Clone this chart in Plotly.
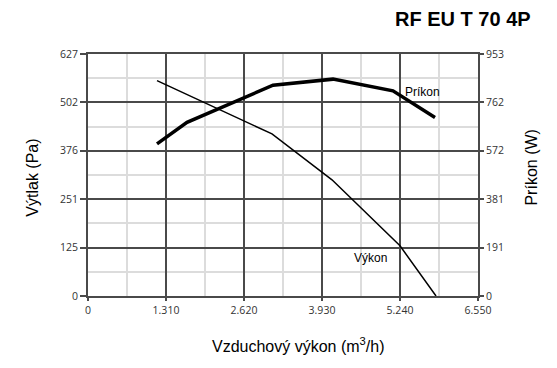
import plotly.graph_objects as go

# ---- data ----
flow_vykon = [1159, 3090, 4098, 5240, 5845]
pressure_vykon = [558, 420, 301, 130, 0]

flow_prikon = [1159, 1663, 3107, 4115, 5122, 5828]
power_prikon = [599, 684, 830, 854, 808, 703]

x_tickvals = [0, 1310, 2620, 3930, 5240, 6550]
x_ticktext = ["0", "1.310", "2.620", "3.930", "5.240", "6.550"]
y_tickvals = [0, 125.4, 250.8, 376.2, 501.6, 627]
y_ticktext = ["0", "125", "251", "376", "502", "627"]
y2_tickvals = [0, 190.6, 381.2, 571.8, 762.4, 953]
y2_ticktext = ["0", "191", "381", "572", "762", "953"]

title_text = "RF EU T 70 4P"
x_title = "Vzduchový výkon (m<sup>3</sup>/h)"
y_title = "Výtlak (Pa)"
y2_title = "Príkon (W)"

DARK = "#4a4a4a"
LIGHT = "#dcdcdc"
TICKFONT = dict(family="Open Sans, DejaVu Sans, sans-serif", size=10.5, color="#333333")

fig = go.Figure()
fig.add_trace(go.Scatter(x=flow_vykon, y=pressure_vykon, mode="lines",
                         line=dict(color="black", width=1.5), yaxis="y",
                         showlegend=False, hoverinfo="skip"))
fig.add_trace(go.Scatter(x=flow_prikon, y=power_prikon, mode="lines",
                         line=dict(color="black", width=3.5), yaxis="y2",
                         showlegend=False, hoverinfo="skip"))

minor_x = [v + 655 for v in x_tickvals[:-1]]
minor_y = [v + 62.7 for v in y_tickvals[:-1]]

fig.update_layout(
    width=549, height=360,
    margin=dict(l=80, r=79, t=46, b=71.5, autoexpand=False),
    paper_bgcolor="white", plot_bgcolor="white",
    xaxis=dict(range=[0, 6550], tickmode="array", tickvals=x_tickvals, ticktext=x_ticktext,
               showgrid=True, gridcolor=DARK, gridwidth=2,
               minor=dict(tickmode="array", tickvals=minor_x, showgrid=True,
                          gridcolor=LIGHT, gridwidth=2, ticks=""),
               showline=True, linecolor=DARK, linewidth=2, mirror=True,
               ticks="outside", ticklen=3, tickwidth=2, tickcolor=DARK,
               tickfont=TICKFONT, zeroline=False, fixedrange=True),
    yaxis=dict(range=[0, 627], tickmode="array", tickvals=y_tickvals, ticktext=y_ticktext,
               showgrid=True, gridcolor=DARK, gridwidth=2,
               minor=dict(tickmode="array", tickvals=minor_y, showgrid=True,
                          gridcolor=LIGHT, gridwidth=2, ticks=""),
               showline=True, linecolor=DARK, linewidth=2,
               ticks="outside", ticklen=6, tickwidth=2, tickcolor=DARK,
               tickfont=TICKFONT, zeroline=False, fixedrange=True),
    yaxis2=dict(range=[0, 953], overlaying="y", side="right", tickmode="array",
                tickvals=y2_tickvals, ticktext=y2_ticktext, showgrid=False,
                showline=True, linecolor=DARK, linewidth=2,
                ticks="outside", ticklen=4, tickwidth=2, tickcolor=DARK,
                tickfont=TICKFONT, zeroline=False, fixedrange=True),
    annotations=[
        dict(text="<b>" + title_text + "</b>", xref="paper", yref="paper",
             x=1.141, y=1.144, xanchor="right", yanchor="middle", showarrow=False,
             font=dict(family="Liberation Sans, Arial, sans-serif", size=20, color="black")),
        dict(text=x_title, xref="paper", yref="paper", x=0.54, y=-0.204,
             xanchor="center", yanchor="middle", showarrow=False,
             font=dict(family="Liberation Sans, Arial, sans-serif", size=16, color="black")),
        dict(text=y_title, xref="paper", yref="paper", x=-0.141, y=0.489,
             xanchor="center", yanchor="middle", textangle=-90, showarrow=False,
             font=dict(family="Liberation Sans, Arial, sans-serif", size=16, color="black")),
        dict(text=y2_title, xref="paper", yref="paper", x=1.138, y=0.53,
             xanchor="center", yanchor="middle", textangle=-90, showarrow=False,
             font=dict(family="Liberation Sans, Arial, sans-serif", size=16, color="black")),
        dict(text="Príkon", xref="x", yref="y2", x=5290, y=803,
             xanchor="left", yanchor="middle", showarrow=False,
             font=dict(family="Liberation Sans, Arial, sans-serif", size=12, color="black")),
        dict(text="Výkon", xref="x", yref="y", x=4434, y=99.5,
             xanchor="left", yanchor="middle", showarrow=False,
             font=dict(family="Liberation Sans, Arial, sans-serif", size=12, color="black")),
    ],
)

fig.write_html("out.html")
